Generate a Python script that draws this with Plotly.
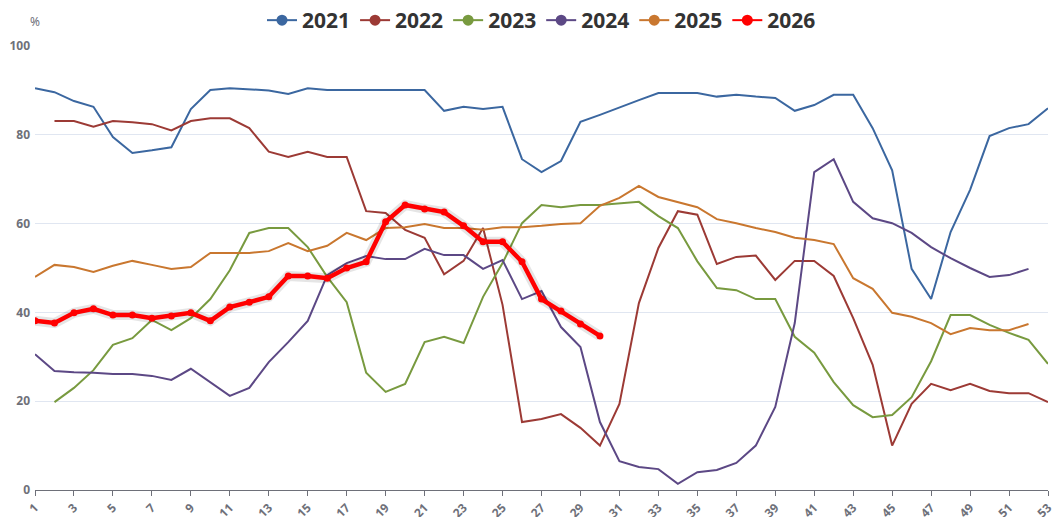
import plotly.graph_objects as go

weeks = list(range(1, 54))

y2021 = [90.5, 89.6, 87.6, 86.3, 79.5, 75.9, 76.5, 77.2, 85.8, 90.1, 90.5, 90.3, 90.0, 89.2, 90.5,
         90.1, 90.1, 90.1, 90.1, 90.1, 90.1, 85.4, 86.3, 85.8, 86.3, 74.5, 71.6, 74.1, 82.9, 84.5,
         86.2, 87.8, 89.4, 89.4, 89.4, 88.6, 89.0, 88.6, 88.3, 85.4, 86.7, 89.0, 89.0, 81.5, 72.0,
         49.8, 43.0, 58.1, 67.6, 79.7, 81.5, 82.4, 86.0]
y2022 = [None, 83.1, 83.1, 81.8, 83.1, 82.8, 82.4, 81.0, 83.1, 83.7, 83.7, 81.5, 76.2, 75.0, 76.2,
         75.0, 75.0, 62.8, 62.4, 58.6, 56.8, 48.6, 51.6, 59.0, 41.7, 15.3, 16.0, 17.1, 14.0, 10.0,
         19.4, 42.1, 54.5, 62.8, 62.0, 50.9, 52.5, 52.8, 47.3, 51.6, 51.6, 48.2, 38.7, 28.2, 10.0,
         19.4, 23.9, 22.5, 23.9, 22.3, 21.8, 21.8, 19.8]
y2023 = [None, 19.8, 23.0, 27.0, 32.7, 34.2, 38.3, 36.0, 38.7, 43.0, 49.5, 57.9, 59.0, 59.0, 54.7,
         48.0, 42.3, 26.4, 22.1, 23.9, 33.3, 34.5, 33.1, 43.5, 51.1, 60.1, 64.2, 63.7, 64.2, 64.2,
         64.6, 64.9, 61.7, 59.0, 51.5, 45.5, 45.0, 43.0, 43.0, 34.5, 30.9, 24.3, 19.1, 16.4, 16.9,
         20.9, 29.0, 39.4, 39.4, 37.2, 35.4, 33.8, 28.4]
y2024 = [30.6, 26.8, 26.5, 26.4, 26.1, 26.1, 25.7, 24.8, 27.3, 24.3, 21.2, 23.0, 28.8, 33.3, 38.1,
         48.4, 51.1, 52.7, 52.0, 52.0, 54.3, 52.9, 52.9, 49.8, 51.8, 43.0, 44.8, 36.7, 32.2, 15.3,
         6.5, 5.2, 4.7, 1.4, 4.0, 4.5, 6.1, 10.0, 18.7, 37.6, 71.6, 74.5, 64.9, 61.2, 60.1,
         57.9, 54.7, 52.2, 50.0, 48.0, 48.4, 49.8, None]
y2025 = [48.0, 50.7, 50.2, 49.1, 50.5, 51.6, 50.7, 49.8, 50.2, 53.4, 53.4, 53.4, 53.8, 55.6, 53.8,
         55.0, 57.9, 56.3, 59.0, 59.2, 59.9, 59.0, 59.0, 58.6, 59.2, 59.2, 59.5, 59.9, 60.1, 64.0,
         65.8, 68.5, 66.0, 64.9, 63.7, 61.0, 60.1, 59.0, 58.1, 56.8, 56.3, 55.4, 47.7, 45.3, 39.9,
         39.0, 37.6, 35.1, 36.5, 36.0, 36.0, 37.4, None]
y2026 = [38.1, 37.6, 39.9, 40.8, 39.4, 39.4, 38.7, 39.2, 39.9, 38.1, 41.2, 42.3, 43.5, 48.2, 48.2,
         47.7, 50.0, 51.4, 60.4, 64.2, 63.3, 62.6, 59.5, 55.9, 55.9, 51.4, 43.0, 40.3, 37.4, 34.7]

series = [
    ("2021", y2021, "#3B67A0"),
    ("2022", y2022, "#9C3A35"),
    ("2023", y2023, "#789A3F"),
    ("2024", y2024, "#5C4885"),
    ("2025", y2025, "#C9772F"),
]

x_ticks = list(range(1, 54, 2))
y_ticks = [0, 20, 40, 60, 80, 100]

fig = go.Figure()

for name, ys, col in series:
    fig.add_trace(go.Scatter(x=weeks[:len(ys)], y=ys, mode="lines", name=name,
                             line=dict(color=col, width=2), showlegend=False,
                             connectgaps=False))

# shadow for 2026
fig.add_trace(go.Scatter(x=weeks[:len(y2026)], y=y2026, mode="lines",
                         line=dict(color="rgba(0,0,0,0.10)", width=10),
                         showlegend=False, hoverinfo="skip"))
fig.add_trace(go.Scatter(x=weeks[:len(y2026)], y=y2026, mode="lines+markers", name="2026",
                         line=dict(color="#FF0000", width=4.5),
                         marker=dict(color="#FF0000", size=7), showlegend=False))

# legend entries
for name, ys, col in series + [("2026", y2026, "#FF0000")]:
    fig.add_trace(go.Scatter(x=[None], y=[None], mode="lines+markers", name=name,
                             line=dict(color=col, width=2),
                             marker=dict(color=col, size=11)))

fig.update_layout(
    width=1057, height=517,
    margin=dict(l=35, r=9, t=46, b=27),
    paper_bgcolor="white", plot_bgcolor="white",
    font=dict(family="Noto Sans, Open Sans, sans-serif", color="#6E7079"),
    legend=dict(orientation="h", x=0.5, xanchor="center", y=1.0, yanchor="top",
                yref="container",
                font=dict(size=21, color="#333333", family="Noto Sans", weight="bold"),
                itemwidth=30, tracegroupgap=0, bgcolor="rgba(0,0,0,0)"),
    showlegend=True,
    xaxis=dict(range=[1, 53], tickmode="array", tickvals=x_ticks, ticktext=[str(t) for t in x_ticks],
               tickangle=-45, showgrid=False, zeroline=False, showline=True,
               linecolor="#6E7079", linewidth=1, ticks="outside", ticklen=5, tickcolor="#6E7079",
               tickfont=dict(size=12, color="#6E7079", weight="bold"), automargin=False),
    yaxis=dict(range=[0, 100], tickmode="array", tickvals=y_ticks, showgrid=True,
               gridcolor="#E0E6F1", gridwidth=1, zeroline=False, showline=False,
               tickfont=dict(size=12, color="#6E7079", weight="bold"), automargin=False,
               ticks="", ticklabelstandoff=4),
)

fig.add_annotation(text="%", xref="paper", yref="paper", x=0, y=1.0, yshift=14,
                   xanchor="center", yanchor="bottom", showarrow=False,
                   font=dict(size=12, color="#6E7079"))

fig.write_html("out.html")
